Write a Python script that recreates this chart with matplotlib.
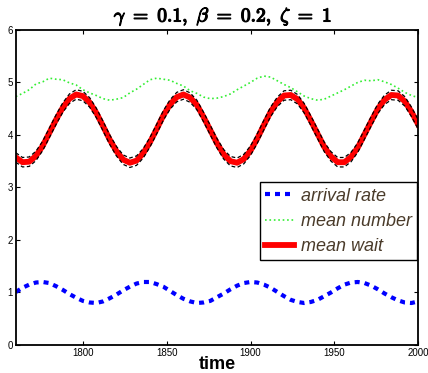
import matplotlib
matplotlib.use('Agg')
import matplotlib.pyplot as plt
import matplotlib.patheffects as pe

plt.rcParams['font.family'] = ['Liberation Sans', 'DejaVu Sans']
plt.rcParams['mathtext.fontset'] = 'cm'

# time grid (every 4 time units)
time = list(range(1760, 2001, 4))

arrival_rate = [1.01, 1.09, 1.15, 1.19, 1.20, 1.18, 1.12, 1.05, 0.97, 0.90,
                0.84, 0.81, 0.80, 0.83, 0.89, 0.96, 1.04, 1.11, 1.17, 1.20,
                1.20, 1.16, 1.11, 1.03, 0.95, 0.88, 0.83, 0.80, 0.81, 0.84,
                0.91, 0.98, 1.06, 1.13, 1.18, 1.20, 1.19, 1.15, 1.09, 1.01,
                0.93, 0.86, 0.82, 0.80, 0.82, 0.86, 0.93, 1.00, 1.08, 1.15,
                1.19, 1.20, 1.18, 1.13, 1.06, 0.98, 0.91, 0.85, 0.81, 0.80,
                0.83]

mean_number = [4.73, 4.79, 4.86, 4.97, 5.01, 5.08, 5.06, 5.05, 4.99, 4.95,
               4.86, 4.80, 4.75, 4.69, 4.66, 4.68, 4.71, 4.80, 4.87, 4.96,
               5.05, 5.08, 5.06, 5.04, 4.98, 4.93, 4.84, 4.79, 4.72, 4.69,
               4.70, 4.73, 4.78, 4.86, 4.93, 5.00, 5.08, 5.12, 5.10, 5.03,
               4.96, 4.90, 4.82, 4.74, 4.69, 4.66, 4.68, 4.74, 4.80, 4.86,
               4.93, 5.00, 5.04, 5.03, 5.05, 5.01, 4.96, 4.89, 4.81, 4.75,
               4.71]

mean_wait = [3.57, 3.48, 3.49, 3.60, 3.79, 4.04, 4.29, 4.52, 4.69, 4.77,
             4.74, 4.62, 4.42, 4.17, 3.91, 3.69, 3.53, 3.47, 3.51, 3.65,
             3.86, 4.11, 4.37, 4.58, 4.72, 4.77, 4.71, 4.57, 4.34, 4.09,
             3.84, 3.63, 3.50, 3.47, 3.54, 3.70, 3.93, 4.19, 4.44, 4.63,
             4.75, 4.76, 4.68, 4.51, 4.27, 4.02, 3.77, 3.59, 3.48, 3.48,
             3.58, 3.76, 4.01, 4.26, 4.50, 4.67, 4.76, 4.75, 4.64, 4.44,
             4.20]

wait_upper = [3.66, 3.57, 3.58, 3.69, 3.88, 4.13, 4.38, 4.61, 4.78, 4.86,
              4.83, 4.71, 4.51, 4.26, 4.00, 3.78, 3.62, 3.56, 3.60, 3.74,
              3.95, 4.20, 4.46, 4.67, 4.81, 4.86, 4.80, 4.66, 4.43, 4.18,
              3.93, 3.72, 3.59, 3.56, 3.63, 3.79, 4.02, 4.28, 4.53, 4.72,
              4.84, 4.85, 4.77, 4.60, 4.36, 4.11, 3.86, 3.68, 3.57, 3.57,
              3.67, 3.85, 4.10, 4.35, 4.59, 4.76, 4.85, 4.84, 4.73, 4.53,
              4.29]

wait_lower = [3.48, 3.39, 3.40, 3.51, 3.70, 3.95, 4.20, 4.43, 4.60, 4.68,
              4.65, 4.53, 4.33, 4.08, 3.82, 3.60, 3.44, 3.38, 3.42, 3.56,
              3.77, 4.02, 4.28, 4.49, 4.63, 4.68, 4.62, 4.48, 4.25, 4.00,
              3.75, 3.54, 3.41, 3.38, 3.45, 3.61, 3.84, 4.10, 4.35, 4.54,
              4.66, 4.67, 4.59, 4.42, 4.18, 3.93, 3.68, 3.50, 3.39, 3.39,
              3.49, 3.67, 3.92, 4.17, 4.41, 4.58, 4.67, 4.66, 4.55, 4.35,
              4.11]

fig = plt.figure(figsize=(4.28, 3.73), dpi=100)
ax = fig.add_axes([0.037, 0.075, 0.940, 0.845])

ax.plot(time, arrival_rate, color='#0000ff', linestyle=(0, (1.2, 1.2)),
        linewidth=3, label='arrival rate')
ax.plot(time, mean_number, color='#33ee33', linestyle=':', linewidth=1.2,
        label='mean number')
ax.plot(time, mean_wait, color='#ff0000', linewidth=4.2, label='mean wait')
ax.plot(time, wait_upper, color='black', linestyle='--', linewidth=0.9,
        dashes=(3, 2))
ax.plot(time, wait_lower, color='black', linestyle='--', linewidth=0.9,
        dashes=(3, 2))

ax.set_xlim(1760, 2000)
ax.set_ylim(0, 6)
ax.set_xticks([1800, 1850, 1900, 1950, 2000])
ax.set_yticks([0, 1, 2, 3, 4, 5, 6])
ax.tick_params(direction='in', top=True, right=True, length=3, width=0.8,
               labelsize=7, pad=2)
for sp in ax.spines.values():
    sp.set_linewidth(1.3)

title = ax.set_title(r'$\gamma\ =\ 0.1,\ \beta\ =\ 0.2,\ \zeta\ =\ 1$',
                     fontsize=14, pad=6, x=0.515)
title.set_path_effects([pe.withStroke(linewidth=0.9, foreground='black')])
ax.set_xlabel('time', fontsize=13, fontweight='bold', labelpad=-1.5)

leg = ax.legend(loc='upper right', bbox_to_anchor=(0.997, 0.516),
                prop={'style': 'italic', 'size': 13}, fancybox=False,
                edgecolor='black', framealpha=1, handlelength=1.6,
                borderpad=0.3, labelspacing=0.45, handletextpad=0.35,
                borderaxespad=0)
leg.get_frame().set_linewidth(1.0)
for t in leg.get_texts():
    t.set_color('#4a3b2a')

fig.savefig('out.png', dpi=100)
